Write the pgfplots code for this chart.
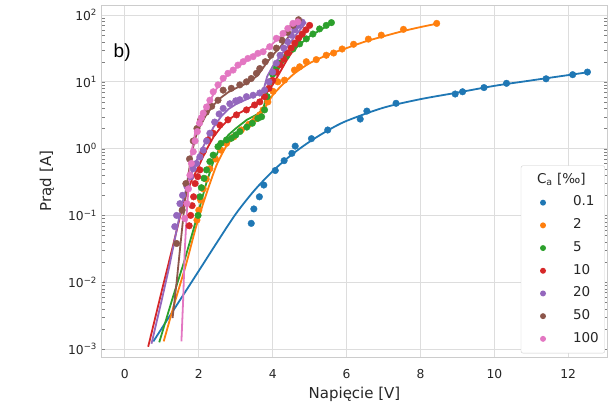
\documentclass[border=0pt]{standalone}
\usepackage{pgfplots}
\pgfplotsset{compat=1.18}
\usepackage{fontspec}
\setmainfont{DejaVu Sans}
\newfontfamily\arialfont{Liberation Sans}
\definecolor{c0}{HTML}{1F77B4}
\definecolor{c1}{HTML}{FF7F0E}
\definecolor{c2}{HTML}{2CA02C}
\definecolor{c3}{HTML}{D62728}
\definecolor{c4}{HTML}{9467BD}
\definecolor{c5}{HTML}{8C564B}
\definecolor{c6}{HTML}{E377C2}
\definecolor{gridc}{HTML}{DDDDDD}
\definecolor{spinec}{HTML}{CCCCCC}
\definecolor{txt}{HTML}{262626}
\newcommand{\tickfont}{\fontsize{12.3}{14}\selectfont}
\newcommand{\lblfont}{\fontsize{15}{18}\selectfont}
\newcommand{\legfont}{\fontsize{13.5}{16}\selectfont}

\pgfplotstableread{
x y
3.42 0.076
3.49 0.125
3.64 0.19
3.76 0.285
4.07 0.47
4.31 0.66
4.52 0.85
4.61 1.09
5.05 1.41
5.49 1.9
6.37 2.77
6.55 3.65
7.34 4.77
8.94 6.57
9.14 7.1
9.72 8.2
10.33 9.5
11.40 11.1
12.12 12.8
12.52 14.0
}\ptsA
\pgfplotstableread{
x y
0.77 0.0013
1.5 0.0055
2.0 0.0148
2.5 0.040
3.0 0.105
3.5 0.235
4.0 0.46
4.5 0.80
5.0 1.27
5.5 1.88
6.0 2.6
7.0 4.1
8.0 5.5
9.0 6.9
10.0 8.7
11.0 10.5
12.0 12.6
12.6 14.1
}\lineA

\pgfplotstableread{
x y
1.95 0.085
2.00 0.12
2.05 0.17
2.12 0.25
2.20 0.35
2.30 0.5
2.45 0.7
2.60 0.95
2.75 1.2
2.95 1.5
3.15 1.9
3.35 2.3
3.55 2.8
3.65 3.2
3.74 3.8
3.87 5.0
4.01 7.2
4.14 10
4.32 10.6
4.59 15
4.73 16.8
4.91 20
5.18 21.5
5.45 25
5.65 27
5.88 31
6.19 36.5
6.59 43.6
6.94 50
7.54 61
8.44 75
}\ptsB
\pgfplotstableread{
x y
1.05 0.0013
1.35 0.005
1.65 0.018
1.9 0.06
2.1 0.14
2.3 0.3
2.5 0.6
2.75 1.1
3.0 1.6
3.3 2.3
3.6 3.2
3.8 4.2
4.0 6.3
4.3 9.5
4.6 13.5
5.0 19
5.5 25.5
6.0 32
6.5 40
7.0 48
7.5 57
8.0 66
8.44 74
}\lineB

\pgfplotstableread{
x y
1.98 0.10
2.03 0.19
2.07 0.26
2.14 0.36
2.21 0.48
2.30 0.64
2.39 0.8
2.52 1.07
2.60 1.2
2.75 1.35
2.88 1.43
3.00 1.6
3.11 1.8
3.30 2.1
3.45 2.4
3.60 2.84
3.70 3.0
3.78 3.8
3.85 6
3.92 10
4.00 13
4.10 16
4.19 19
4.37 24
4.55 31
4.73 37
4.91 44
5.09 52
5.27 62
5.45 70
5.59 77
}\ptsC
\pgfplotstableread{
x y
0.93 0.00126
1.3 0.006
1.6 0.02
1.85 0.06
2.05 0.15
2.2 0.3
2.4 0.65
2.6 1.1
2.8 1.6
3.0 2.0
3.3 2.7
3.6 3.3
3.75 4.0
3.85 7
3.95 11
4.1 15
4.3 20
4.5 27
4.75 37
5.0 48
5.3 60
5.59 75
}\lineC

\pgfplotstableread{
x y
1.74 0.07
1.78 0.10
1.82 0.14
1.86 0.19
1.90 0.30
1.97 0.38
2.03 0.48
2.12 0.90
2.25 1.35
2.39 1.7
2.57 2.25
2.79 2.7
3.02 3.2
3.29 3.8
3.51 4.5
3.65 5.0
3.78 6.0
3.90 8
4.00 10.5
4.10 14
4.20 18
4.30 22
4.40 27
4.50 32
4.60 38
4.70 45
4.80 52
4.90 60
5.00 70
}\ptsD
\pgfplotstableread{
x y
0.63 0.00108
1.0 0.0075
1.3 0.035
1.5 0.1
1.65 0.2
1.8 0.33
2.0 0.55
2.2 0.95
2.4 1.5
2.6 2.1
2.8 2.7
3.0 3.2
3.3 3.9
3.6 4.8
3.8 6.5
4.0 9
4.2 14
4.4 22
4.6 32
4.8 48
5.0 72
}\lineD

\pgfplotstableread{
x y
1.35 0.068
1.40 0.10
1.49 0.15
1.56 0.2
1.68 0.27
1.78 0.38
1.85 0.5
1.94 0.6
2.03 0.75
2.12 0.95
2.21 1.3
2.30 1.7
2.43 2.5
2.55 3.3
2.66 4.0
2.84 4.7
3.00 5.2
3.11 5.4
3.29 6.0
3.47 6.3
3.65 6.8
3.78 7.5
3.90 10
4.00 14
4.10 19
4.20 25
4.30 32
4.40 40
4.50 50
4.60 60
4.70 70
4.80 78
}\ptsE
\pgfplotstableread{
x y
0.72 0.0012
1.0 0.0055
1.2 0.017
1.4 0.06
1.55 0.15
1.7 0.3
1.85 0.5
2.0 0.8
2.2 1.3
2.4 2.1
2.6 3.0
2.8 3.9
3.0 4.6
3.3 5.5
3.6 6.5
3.75 7.5
3.85 12
4.0 17
4.2 24
4.4 34
4.6 48
4.8 66
4.9 78
}\lineE

\pgfplotstableread{
x y
1.40 0.038
1.55 0.12
1.65 0.3
1.75 0.7
1.85 1.3
1.95 2.0
2.05 2.7
2.20 3.5
2.35 4.3
2.52 5.3
2.66 7.5
2.88 8
3.11 9
3.29 10
3.42 11.2
3.56 13.4
3.65 15.8
3.80 20
3.95 25
4.10 32
4.25 42
4.40 55
4.55 70
4.70 85
}\ptsF
\pgfplotstableread{
x y
1.29 0.0029
1.4 0.01
1.5 0.035
1.6 0.12
1.7 0.35
1.8 0.8
1.9 1.4
2.0 2.0
2.2 3.2
2.4 4.5
2.6 5.8
2.8 7
3.0 8
3.3 9.5
3.6 12.5
3.8 18
4.0 25
4.2 33
4.4 45
4.6 62
4.73 80
}\lineF

\pgfplotstableread{
x y
1.62 0.09
1.68 0.15
1.72 0.25
1.76 0.4
1.80 0.6
1.85 0.9
1.90 1.3
1.96 1.8
2.02 2.4
2.07 2.9
2.12 3.4
2.21 4.2
2.30 5.3
2.39 7.1
2.52 9.0
2.66 11.3
2.79 13.4
2.93 15
3.06 17.8
3.20 20
3.33 22.4
3.47 23.8
3.60 26.7
3.74 28.2
3.92 33.5
4.10 44.8
4.28 53
4.41 63
4.55 75
4.68 79
}\ptsG
\pgfplotstableread{
x y
1.53 0.0013
1.58 0.006
1.62 0.03
1.68 0.12
1.75 0.45
1.82 1.0
1.9 1.7
2.0 2.5
2.1 3.3
2.3 5.2
2.5 8.2
2.7 11.5
2.9 14.5
3.1 17.5
3.3 21
3.5 24
3.7 28
3.9 33
4.1 42
4.3 53
4.5 66
4.7 82
}\lineG

\begin{document}
\begin{tikzpicture}[x=1pt,y=1pt]
\useasboundingbox (-102,-48) rectangle (506,357);
\begin{axis}[
  at={(0,0)}, anchor=south west,
  scale only axis, width=505pt, height=352pt,
  xmin=-0.62, xmax=13.05,
  ymode=log, ymin=7.59e-4, ymax=141.3,
  xtick={0,2,4,6,8,10,12},
  xticklabels={0,2,4,6,8,10,12},
  ytick={1e-3,1e-2,1e-1,1,10,100},
  yticklabels={10\textsuperscript{−3},10\textsuperscript{−2},10\textsuperscript{−1},10\textsuperscript{0},10\textsuperscript{1},10\textsuperscript{2}},
  minor tick num=0,
  major tick length=0pt,
  grid=major,
  grid style={gridc, line width=1pt},
  axis line style={spinec, line width=1pt},
  tick label style={font=\tickfont, text=txt},
  xticklabel style={yshift=-8.5pt},
  yticklabel style={xshift=-1.5pt},
  xlabel={\lblfont Napięcie [V]},
  ylabel={\lblfont Prąd [A]},
  every axis x label/.style={at={(axis description cs:0.5,-0.105)}, anchor=center, text=txt},
  every axis y label/.style={at={(axis description cs:-0.109,0.5)}, rotate=90, anchor=center, text=txt},
  legend style={at={(rel axis cs:0.996,0.0105)}, anchor=south east,
    draw=spinec, rounded corners=2pt, fill=white,
    row sep=10.2pt, column sep=0pt, inner xsep=6pt, inner ysep=8pt,
    nodes={font=\legfont, text=txt, text height=9.5pt, text depth=3pt, inner sep=0pt},
    cells={anchor=west}},
  legend image code/.code={\path[draw=none,fill=none] (0pt,0pt) -- (46pt,0pt); \fill[#1, draw=none] (16pt,0pt) circle (3pt);},
  mark size=3.3pt,
]
\addlegendimage{empty legend}
\addlegendentry{\hspace*{-36pt}C\textsubscript{a} [‰]}

\addplot[only marks, mark=*, c0, mark options={draw=c0, fill=c0}] table {\ptsA};
\addlegendentry{0.1}
\addplot[only marks, mark=*, c1, mark options={draw=c1, fill=c1}] table {\ptsB};
\addlegendentry{2}
\addplot[only marks, mark=*, c2, mark options={draw=c2, fill=c2}] table {\ptsC};
\addlegendentry{5}
\addplot[only marks, mark=*, c3, mark options={draw=c3, fill=c3}] table {\ptsD};
\addlegendentry{10}
\addplot[only marks, mark=*, c4, mark options={draw=c4, fill=c4}] table {\ptsE};
\addlegendentry{20}
\addplot[only marks, mark=*, c5, mark options={draw=c5, fill=c5}] table {\ptsF};
\addlegendentry{50}
\addplot[only marks, mark=*, c6, mark options={draw=c6, fill=c6}] table {\ptsG};
\addlegendentry{100}

\addplot[forget plot, no marks, draw=c0, line width=1.8pt, smooth, tension=0.5] table {\lineA};
\addplot[forget plot, no marks, draw=c1, line width=1.8pt, smooth, tension=0.4] table {\lineB};
\addplot[forget plot, no marks, draw=c2, line width=1.8pt] table {\lineC};
\addplot[forget plot, no marks, draw=c3, line width=1.8pt] table {\lineD};
\addplot[forget plot, no marks, draw=c4, line width=1.8pt] table {\lineE};
\addplot[forget plot, no marks, draw=c5, line width=1.8pt] table {\lineF};
\addplot[forget plot, no marks, draw=c6, line width=1.8pt] table {\lineG};

\node[font=\arialfont\fontsize{19}{22}\selectfont, text=black, anchor=center] at (axis description cs:0.04,0.866) {b)};
\end{axis}
\end{tikzpicture}
\end{document}
